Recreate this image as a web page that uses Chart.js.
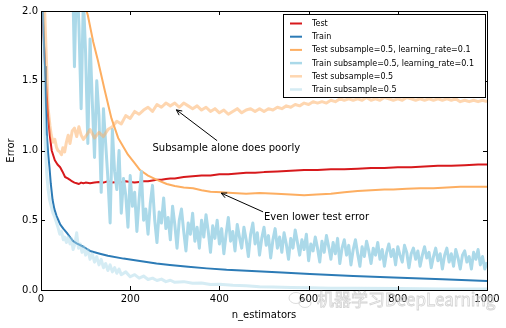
<!DOCTYPE html>
<html><head><meta charset="utf-8">
<script src="https://cdn.jsdelivr.net/npm/chart.js@4/dist/chart.umd.min.js"></script>
<style>html,body{margin:0;padding:0;background:#fff}</style>
</head><body>
<canvas id="c" width="506" height="328"></canvas>
<script>
// ---------------- data ----------------
const X_TICKS = [0, 200, 400, 600, 800, 1000];
const Y_TICKS = [0, 0.5, 1.0, 1.5, 2.0];
const SERIES_LABELS = ["Test", "Train", "Test subsample=0.5, learning_rate=0.1",
  "Train subsample=0.5, learning_rate=0.1", "Test subsample=0.5", "Train subsample=0.5"];

const testX = [1,5,9,13,16,20,24,31,37,43,48,54,60,65,69,75,80,85,90,95,100,110,120,130,140,150,160,170,180,190,200,210,220,230,240,250,260,270,280,290,300,320,340,360,380,400,420,440,460,480,500,530,560,590,620,650,680,710,740,770,800,830,860,890,920,950,980,1000];
const testY = [2.3,1.85,1.61,1.39,1.24,1.10,1.00,0.93,0.90,0.88,0.85,0.81,0.80,0.79,0.78,0.77,0.765,0.76,0.77,0.765,0.77,0.765,0.77,0.775,0.77,0.78,0.77,0.775,0.77,0.78,0.775,0.77,0.775,0.78,0.78,0.785,0.79,0.79,0.795,0.80,0.80,0.81,0.815,0.82,0.82,0.83,0.83,0.835,0.84,0.84,0.845,0.85,0.855,0.86,0.86,0.865,0.865,0.87,0.875,0.875,0.88,0.88,0.885,0.89,0.89,0.895,0.90,0.90];

const trainX = [1,3,5,7,9,11,13,16,19,22,26,30,35,39,43,50,58,65,72,80,95,110,132,150,185,207,259,289,330,372,416,484,540,603,700,790,900,1000];
const trainY = [2.6,2.2,1.95,1.75,1.60,1.35,1.12,0.98,0.88,0.76,0.645,0.58,0.53,0.50,0.47,0.44,0.41,0.38,0.35,0.335,0.31,0.28,0.26,0.245,0.225,0.215,0.19,0.18,0.167,0.155,0.145,0.135,0.125,0.115,0.10,0.09,0.077,0.065];

const testSubLrX = [1,30,60,80,95,105,117,128,143,158,173,195,210,222,240,260,282,300,320,341,360,380,405,430,460,490,528,560,590,618,650,680,710,740,770,790,820,850,880,910,940,970,1000];
const testSubLrY = [3.6,3.0,2.5,2.25,2.08,1.97,1.78,1.64,1.43,1.23,1.09,0.97,0.91,0.86,0.82,0.79,0.76,0.745,0.735,0.73,0.715,0.705,0.70,0.695,0.69,0.695,0.69,0.685,0.68,0.685,0.69,0.70,0.71,0.715,0.72,0.72,0.725,0.73,0.73,0.735,0.74,0.74,0.74];

const trainSubLrX = [1,20,40,55,65,
  70,75,80,85,90,95,100,105,110,115,120,125,130,135,140,145,150,155,160,165,
  170,175,180,185,190,195,200,205,210,215,220,225,230,235,240,245,250,255,260,265,
  270,275,280,285,290,295,300,305,310,315,320,325,330,335,340,345,350,355,360,365,
  370,375,380,385,390,395,400,405,410,415,420,425,430,435,440,445,450,455,460,465,
  470,475,480,485,490,495,500,505,510,515,520,525,530,535,540,545,550,555,560,565,
  570,575,580,585,590,595,600,605,610,615,620,625,630,635,640,645,650,655,660,665,
  670,675,680,685,690,695,700,705,710,715,720,725,730,735,740,745,750,755,760,765,
  770,775,780,785,790,795,800,805,810,815,820,825,830,835,840,845,850,855,860,865,
  870,875,880,885,890,895,900,905,910,915,920,925,930,935,940,945,950,955,960,965,
  970,975,980,985,990,995,1000];
const trainSubLrY = [7.0,5.0,3.6,2.9,2.5,
  2.4,1.6,2.3,1.9,1.3,2.1,1.7,1.05,1.8,1.35,0.95,1.5,1.25,0.7,1.3,1.05,0.8,0.48,1.15,0.85,
  0.72,1.0,0.55,0.8,0.68,0.45,0.82,0.6,0.7,0.42,0.65,0.85,0.5,0.58,0.4,0.62,0.75,0.5,0.34,0.56,
  0.48,0.66,0.44,0.52,0.36,0.6,0.47,0.3,0.5,0.58,0.42,0.28,0.48,0.4,0.55,0.35,0.45,0.3,0.5,0.38,
  0.54,0.42,0.27,0.46,0.37,0.5,0.33,0.44,0.26,0.4,0.52,0.35,0.42,0.28,0.47,0.38,0.3,0.45,0.36,0.24,
  0.4,0.48,0.33,0.41,0.25,0.37,0.45,0.32,0.39,0.23,0.36,0.44,0.3,0.38,0.27,0.41,0.33,0.22,0.37,0.3,
  0.43,0.34,0.25,0.36,0.29,0.4,0.21,0.33,0.28,0.38,0.3,0.2,0.35,0.27,0.39,0.31,0.22,0.34,0.26,0.37,
  0.19,0.3,0.36,0.25,0.32,0.18,0.29,0.36,0.26,0.17,0.31,0.24,0.35,0.28,0.19,0.3,0.25,0.34,0.22,0.29,
  0.17,0.27,0.33,0.24,0.29,0.18,0.31,0.25,0.2,0.32,0.27,0.16,0.26,0.3,0.22,0.28,0.17,0.25,0.31,0.23,
  0.27,0.16,0.24,0.3,0.21,0.26,0.15,0.25,0.3,0.2,0.26,0.17,0.29,0.23,0.15,0.25,0.28,0.2,0.24,0.15,
  0.27,0.22,0.29,0.18,0.24,0.15,0.2];

const testSubX = [1,4,8,12,16,20,23,27,31,35,38,42,46,49,53,57,61,65,70,75,80,85,90,95,
  100,110,120,130,140,150,160,170,180,190,200,210,220,230,240,250,260,270,280,290,300,
  310,320,330,340,350,360,370,380,390,400,410,420,430,440,450,460,470,480,490,500,
  510,520,530,540,550,560,570,580,590,600,610,620,630,640,650,660,670,680,690,700,
  710,720,730,740,750,760,770,780,790,800,810,820,830,840,850,860,870,880,890,900,
  910,920,930,940,950,960,970,980,990,1000];
const testSubY = [2.6,2.3,2.02,1.66,1.30,1.18,1.11,1.06,1.08,1.02,1.00,0.99,0.97,1.02,0.99,1.06,1.11,1.05,1.14,1.16,1.10,1.17,1.11,1.08,
  1.10,1.15,1.09,1.13,1.10,1.15,1.17,1.21,1.19,1.25,1.23,1.28,1.26,1.29,1.31,1.28,1.33,1.31,1.34,1.32,1.34,
  1.31,1.34,1.32,1.30,1.32,1.29,1.31,1.28,1.30,1.27,1.29,1.26,1.28,1.30,1.27,1.29,1.30,1.28,1.30,1.28,
  1.30,1.29,1.31,1.30,1.32,1.31,1.33,1.32,1.34,1.33,1.35,1.34,1.35,1.34,1.36,1.35,1.37,1.36,1.37,1.36,
  1.37,1.36,1.38,1.36,1.37,1.36,1.38,1.37,1.36,1.37,1.36,1.38,1.37,1.36,1.37,1.36,1.37,1.36,1.37,1.36,
  1.37,1.36,1.37,1.35,1.36,1.35,1.36,1.35,1.36,1.35];

const trainSubX = [1,3,5,7,9,11,13,16,19,23,27,31,34,38,42,46,50,53,57,61,65,68,72,76,80,84,88,92,96,100,
  105,110,115,120,125,130,135,140,145,150,155,160,165,170,175,180,190,200,210,220,230,240,250,260,270,280,290,300,
  320,340,360,380,400,430,460,490,520,560,600,650,700,800,900,1000];
const trainSubY = [2.5,2.0,1.6,1.3,1.1,0.95,0.83,0.72,0.65,0.6,0.55,0.52,0.49,0.45,0.40,0.42,0.36,0.38,0.34,0.38,0.33,0.37,0.29,0.33,0.41,0.30,0.33,0.27,0.31,0.25,
  0.29,0.22,0.26,0.20,0.24,0.18,0.22,0.16,0.19,0.14,0.18,0.13,0.16,0.12,0.15,0.11,0.13,0.095,0.11,0.085,0.10,0.075,0.085,0.068,0.078,0.06,0.07,0.055,
  0.06,0.048,0.05,0.04,0.042,0.034,0.03,0.024,0.022,0.018,0.016,0.013,0.012,0.01,0.008,0.007];

const ANNOTATIONS = [
  {text: "Subsample alone does poorly", xy: [300, 1.3], textAt: [250, 1.0], tail: [395, 1.07]},
  {text: "Even lower test error", xy: [400, 0.7], textAt: [500, 0.5], tail: [498, 0.56]}
];

// ---------------- build ----------------
const pts = (xs, ys) => xs.map((x, i) => ({x, y: ys[i]}));
const FONT = "'DejaVu Sans', sans-serif";
const styles = [
  {c: '#d7191c', w: 2},
  {c: '#2c7bb6', w: 2},
  {c: '#fdae61', w: 2},
  {c: '#abd9e9', w: 3},
  {c: 'rgba(253,174,97,0.5)', w: 3},
  {c: 'rgba(171,217,233,0.5)', w: 3}
];
const seriesData = [pts(testX, testY), pts(trainX, trainY), pts(testSubLrX, testSubLrY),
  pts(trainSubLrX, trainSubLrY), pts(testSubX, testSubY), pts(trainSubX, trainSubY)];

const datasets = seriesData.map((d, i) => ({
  label: SERIES_LABELS[i], data: d,
  borderColor: styles[i].c, backgroundColor: styles[i].c, borderWidth: styles[i].w,
  pointRadius: 0, tension: 0, fill: false, clip: 0, order: 10 - i,
  borderJoinStyle: 'round', borderCapStyle: 'butt'
}));

function arrow(ctx, x0, y0, x1, y1) {
  const ang = Math.atan2(y1 - y0, x1 - x0);
  x1 -= 2 * Math.cos(ang); y1 -= 2 * Math.sin(ang);
  ctx.beginPath(); ctx.moveTo(x0, y0); ctx.lineTo(x1, y1); ctx.stroke();
  const L = 6, a = 0.45;
  ctx.beginPath();
  ctx.moveTo(x1 - L * Math.cos(ang - a), y1 - L * Math.sin(ang - a));
  ctx.lineTo(x1, y1);
  ctx.lineTo(x1 - L * Math.cos(ang + a), y1 - L * Math.sin(ang + a));
  ctx.stroke();
}

const decor = {
  id: 'decor',
  afterDatasetsDraw(chart) {
    const ctx = chart.ctx, a = chart.chartArea, xs = chart.scales.x, ys = chart.scales.y;
    ctx.save();
    ctx.strokeStyle = '#000'; ctx.lineWidth = 1;
    ctx.strokeRect(Math.round(a.left) + 0.5, Math.round(a.top) + 0.5,
      Math.round(a.right - a.left), Math.round(a.bottom - a.top));
    ctx.beginPath();
    X_TICKS.forEach(v => {
      const px = Math.round(xs.getPixelForValue(v)) + 0.5;
      ctx.moveTo(px, a.bottom); ctx.lineTo(px, a.bottom - 4);
      ctx.moveTo(px, a.top); ctx.lineTo(px, a.top + 4);
    });
    Y_TICKS.forEach(v => {
      const py = Math.round(ys.getPixelForValue(v)) + 0.5;
      ctx.moveTo(a.left, py); ctx.lineTo(a.left + 4, py);
      ctx.moveTo(a.right, py); ctx.lineTo(a.right - 4, py);
    });
    ctx.stroke();
    ctx.fillStyle = '#000'; ctx.font = '10px ' + FONT; ctx.textBaseline = 'alphabetic'; ctx.textAlign = 'left';
    ANNOTATIONS.forEach(an => {
      ctx.fillText(an.text, xs.getPixelForValue(an.textAt[0]), ys.getPixelForValue(an.textAt[1]));
      arrow(ctx, xs.getPixelForValue(an.tail[0]), ys.getPixelForValue(an.tail[1]),
        xs.getPixelForValue(an.xy[0]), ys.getPixelForValue(an.xy[1]));
    });
    const lx = 283.5, ly = 14.5, lw = 202, lh = 83;
    ctx.fillStyle = '#fff'; ctx.fillRect(lx, ly, lw, lh);
    ctx.strokeStyle = '#000'; ctx.lineWidth = 1; ctx.strokeRect(lx, ly, lw, lh);
    ctx.font = '8px ' + FONT; ctx.textBaseline = 'middle';
    chart.data.datasets.forEach((ds, i) => {
      const y = 23.5 + i * 13.2;
      ctx.strokeStyle = ds.borderColor; ctx.lineWidth = Math.min(ds.borderWidth, 2.5);
      ctx.beginPath(); ctx.moveTo(290, y); ctx.lineTo(302, y); ctx.stroke();
      ctx.fillStyle = '#000'; ctx.fillText(ds.label, 312, y + 0.5);
    });
    // faint watermark seen in the reference
    ctx.font = '17px "Noto Sans CJK SC", sans-serif'; ctx.textBaseline = 'middle';
    ctx.fillStyle = 'rgba(255,255,255,0.5)'; ctx.strokeStyle = 'rgba(175,175,175,0.55)'; ctx.lineWidth = 0.8;
    ctx.fillText('机器学习DeepLearning', 317, 300);
    ctx.strokeText('机器学习DeepLearning', 317, 300);
    ctx.beginPath(); ctx.ellipse(296, 298, 7, 5.5, 0, 0, Math.PI * 2); ctx.stroke();
    ctx.beginPath(); ctx.ellipse(305, 303, 6, 4.5, 0, 0, Math.PI * 2); ctx.stroke();
    ctx.restore();
  }
};

new Chart(document.getElementById('c'), {
  type: 'line',
  data: {datasets},
  options: {
    responsive: false, devicePixelRatio: 1, animation: false, events: [],
    layout: {padding: {top: 11, right: 19, left: 0, bottom: 0}},
    plugins: {legend: {display: false}, tooltip: {enabled: false}},
    scales: {
      x: {
        type: 'linear', min: 0, max: 1000,
        afterBuildTicks: s => { s.ticks = X_TICKS.map(v => ({value: v})); },
        afterFit: s => { s.height = 38; },
        grid: {display: false, drawTicks: false}, border: {display: false},
        ticks: {color: '#000', font: {family: FONT, size: 10}, padding: 3, maxRotation: 0, autoSkip: false,
          callback: v => String(v)},
        title: {display: true, text: 'n_estimators', color: '#000', font: {family: FONT, size: 10}, padding: {top: 0, bottom: 7}}
      },
      y: {
        type: 'linear', min: 0, max: 2,
        afterBuildTicks: s => { s.ticks = Y_TICKS.map(v => ({value: v})); },
        afterFit: s => { s.width = 41; },
        grid: {display: false, drawTicks: false}, border: {display: false},
        ticks: {color: '#000', font: {family: FONT, size: 10}, padding: 3, autoSkip: false,
          callback: v => Number(v).toFixed(1)},
        title: {display: true, text: 'Error', color: '#000', font: {family: FONT, size: 10}, padding: {top: 5, bottom: 0}}
      }
    }
  },
  plugins: [decor]
});
</script>
</body></html>
